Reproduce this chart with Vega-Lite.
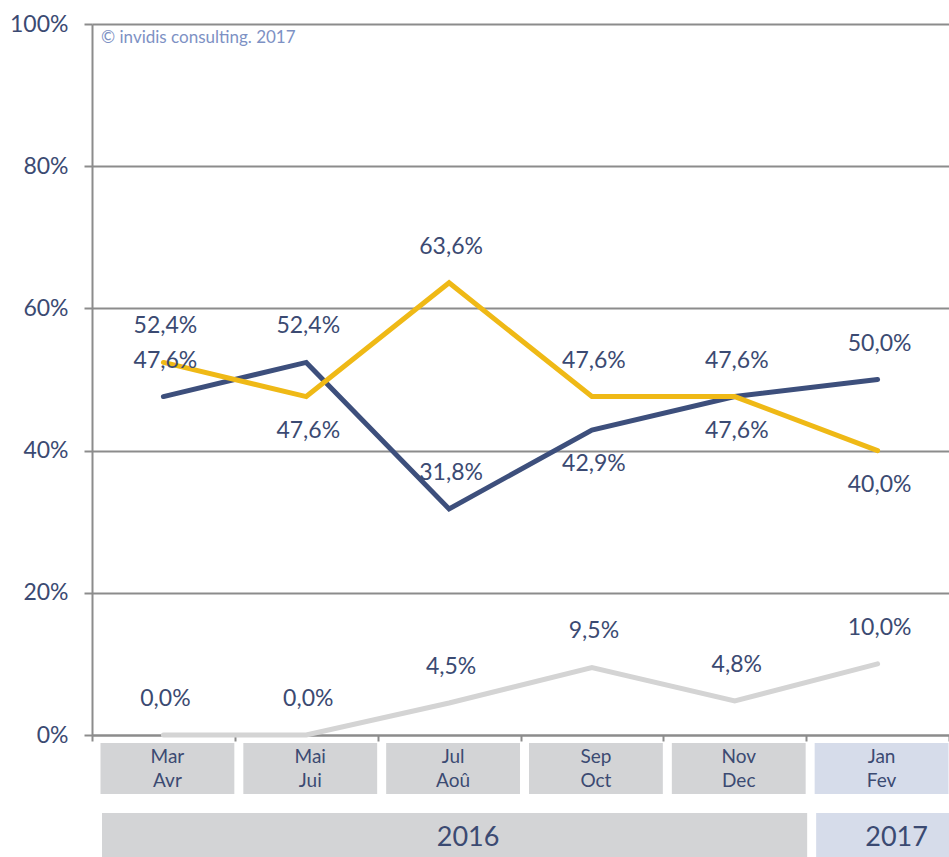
{
  "$schema": "https://vega.github.io/schema/vega-lite/v6.json",
  "width": 857,
  "height": 833,
  "autosize": "none",
  "padding": {"left": 92, "top": 24, "right": 0, "bottom": 0},
  "config": {
    "view": {"stroke": null},
    "font": "Lato",
    "locale": {"number": {"decimal": ",", "thousands": " ", "grouping": [3], "currency": ["", " €"]}}
  },
  "datasets": {
    "series": [
      {"series": "Série 1", "period": "Mar Avr", "value": 0.476, "pos": "above"},
      {"series": "Série 1", "period": "Mai Jui", "value": 0.524, "pos": "above"},
      {"series": "Série 1", "period": "Jul Aoû", "value": 0.318, "pos": "above"},
      {"series": "Série 1", "period": "Sep Oct", "value": 0.429, "pos": "below"},
      {"series": "Série 1", "period": "Nov Dec", "value": 0.476, "pos": "below"},
      {"series": "Série 1", "period": "Jan Fev", "value": 0.500, "pos": "above"},
      {"series": "Série 2", "period": "Mar Avr", "value": 0.524, "pos": "above"},
      {"series": "Série 2", "period": "Mai Jui", "value": 0.476, "pos": "below"},
      {"series": "Série 2", "period": "Jul Aoû", "value": 0.636, "pos": "above"},
      {"series": "Série 2", "period": "Sep Oct", "value": 0.476, "pos": "above"},
      {"series": "Série 2", "period": "Nov Dec", "value": 0.476, "pos": "above"},
      {"series": "Série 2", "period": "Jan Fev", "value": 0.400, "pos": "below"},
      {"series": "Série 3", "period": "Mar Avr", "value": 0.0, "pos": "above"},
      {"series": "Série 3", "period": "Mai Jui", "value": 0.0, "pos": "above"},
      {"series": "Série 3", "period": "Jul Aoû", "value": 0.045, "pos": "above"},
      {"series": "Série 3", "period": "Sep Oct", "value": 0.095, "pos": "above"},
      {"series": "Série 3", "period": "Nov Dec", "value": 0.048, "pos": "above"},
      {"series": "Série 3", "period": "Jan Fev", "value": 0.100, "pos": "above"}
    ],
    "months": [
      {"period": "Mar Avr", "year": "2016"},
      {"period": "Mai Jui", "year": "2016"},
      {"period": "Jul Aoû", "year": "2016"},
      {"period": "Sep Oct", "year": "2016"},
      {"period": "Nov Dec", "year": "2016"},
      {"period": "Jan Fev", "year": "2017"}
    ],
    "years": [
      {"year": "2016", "start": "Mar Avr", "end": "Nov Dec", "mid": "Jul Aoû"},
      {"year": "2017", "start": "Jan Fev", "end": "Jan Fev", "mid": "Jan Fev"}
    ],
    "notes": [{"note": "© invidis consulting. 2017"}]
  },
  "layer": [
    {
      "data": {"name": "series"},
      "mark": {"type": "line", "strokeWidth": 5, "strokeCap": "round"},
      "encoding": {
        "x": {
          "field": "period", "type": "nominal", "sort": null,
          "scale": {"type": "band", "domain": ["Mar Avr", "Mai Jui", "Jul Aoû", "Sep Oct", "Nov Dec", "Jan Fev"], "paddingInner": 0, "paddingOuter": 0},
          "axis": {"title": null, "labels": false, "orient": "bottom", "offset": -122, "tickBand": "extent", "ticks": true, "tickSize": 6, "tickWidth": 2, "tickColor": "#8c8c8c", "domainColor": "#8c8c8c", "domainWidth": 2, "grid": false}
        },
        "y": {
          "field": "value", "type": "quantitative",
          "scale": {"domain": [0, 1], "range": [711, 0], "nice": false, "zero": false},
          "axis": {"title": null, "values": [0, 0.2, 0.4, 0.6, 0.8, 1], "format": ".0%", "grid": true, "gridColor": "#8c8c8c", "gridWidth": 2, "tickColor": "#8c8c8c", "tickWidth": 2, "tickSize": 8, "domainColor": "#8c8c8c", "domainWidth": 2, "labelFontSize": 23, "labelColor": "#3b4a72", "labelPadding": 16}
        },
        "color": {
          "field": "series", "type": "nominal", "legend": null,
          "scale": {"domain": ["Série 1", "Série 2", "Série 3"], "range": ["#3d4f7c", "#efb916", "#d4d4d4"]}
        }
      }
    },
    {
      "data": {"name": "series"},
      "transform": [{"filter": "datum.pos == 'above'"}],
      "mark": {"type": "text", "fontSize": 23, "color": "#3b4a72", "baseline": "middle", "dy": -36, "dx": 2},
      "encoding": {
        "x": {"field": "period", "type": "nominal"},
        "y": {"field": "value", "type": "quantitative"},
        "text": {"field": "value", "type": "quantitative", "format": ".1%"}
      }
    },
    {
      "data": {"name": "series"},
      "transform": [{"filter": "datum.pos == 'below'"}],
      "mark": {"type": "text", "fontSize": 23, "color": "#3b4a72", "baseline": "middle", "dy": 34, "dx": 2},
      "encoding": {
        "x": {"field": "period", "type": "nominal"},
        "y": {"field": "value", "type": "quantitative"},
        "text": {"field": "value", "type": "quantitative", "format": ".1%"}
      }
    },
    {
      "data": {"name": "months"},
      "mark": {"type": "rect", "xOffset": 8.5, "x2Offset": -0.5},
      "encoding": {
        "x": {"field": "period", "type": "nominal", "bandPosition": 0},
        "x2": {"field": "period", "bandPosition": 1},
        "y": {"datum": -0.0113},
        "y2": {"datum": -0.083},
        "fill": {"field": "year", "type": "nominal", "legend": null, "scale": {"domain": ["2016", "2017"], "range": ["#d3d4d6", "#d6dcea"]}}
      }
    },
    {
      "data": {"name": "months"},
      "mark": {"type": "text", "fontSize": 19, "color": "#3b4a72", "baseline": "middle", "lineBreak": " ", "lineHeight": 24, "dx": 4},
      "encoding": {
        "x": {"field": "period", "type": "nominal"},
        "y": {"datum": -0.031},
        "text": {"field": "period"}
      }
    },
    {
      "data": {"name": "years"},
      "mark": {"type": "rect", "xOffset": 10, "x2Offset": 1},
      "encoding": {
        "x": {"field": "start", "type": "nominal", "bandPosition": 0},
        "x2": {"field": "end", "bandPosition": 1},
        "y": {"datum": -0.1097},
        "y2": {"datum": -0.19},
        "fill": {"field": "year", "type": "nominal", "legend": null}
      }
    },
    {
      "data": {"name": "years"},
      "mark": {"type": "text", "fontSize": 27, "color": "#3b4a72", "baseline": "middle", "dx": 19},
      "encoding": {
        "x": {"field": "mid", "type": "nominal"},
        "y": {"datum": -0.145},
        "text": {"field": "year"}
      }
    },
    {
      "data": {"name": "notes"},
      "mark": {"type": "text", "fontSize": 17, "color": "#7d91c4", "align": "left", "baseline": "middle", "dx": 9, "dy": 14},
      "encoding": {
        "x": {"datum": "Mar Avr", "type": "nominal", "bandPosition": 0},
        "y": {"datum": 1},
        "text": {"field": "note"}
      }
    }
  ]
}
